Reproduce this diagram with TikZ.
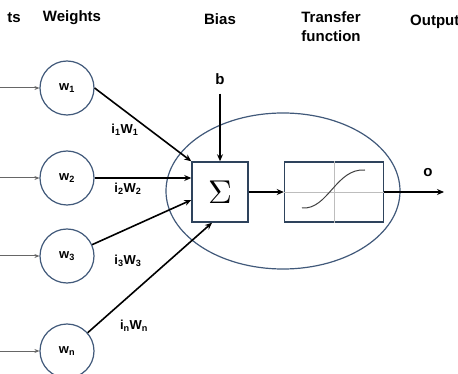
\documentclass[tikz,border=0pt]{standalone}
\usepackage{fontspec}
\setmainfont{Liberation Sans}
\usetikzlibrary{positioning, arrows.meta, shapes.geometric}
\definecolor{rimblue}{HTML}{41597A}
\definecolor{boxblue}{HTML}{2E435C}
\definecolor{gridgray}{HTML}{BDBDBD}
\tikzset{
  head/.style  = {font=\bfseries\fontsize{15}{19}\selectfont, align=center, inner sep=0pt},
  wcirc/.style = {circle, draw=rimblue, line width=1.2pt, minimum size=54pt, inner sep=0pt,
                  font=\bfseries\fontsize{13}{14}\selectfont},
  blk/.style   = {rectangle, draw=boxblue, line width=1.5pt, inner sep=0pt, minimum height=60pt},
  prod/.style  = {font=\bfseries\fontsize{13}{14}\selectfont, inner sep=0pt},
  feed/.style  = {line width=1.6pt, -{Stealth[length=7pt, width=6pt]}},
  inp/.style   = {draw=black!60, line width=1pt, -{Stealth[length=5pt, width=4pt]}},
}

\begin{document}
\begin{tikzpicture}[x=1pt, y=-1pt]
\useasboundingbox (0,0) rectangle (458,374);

% Column headings
\node (hin)  [head] at (14,18)  {ts};
\node (hw)   [head] at (72,18)  {Weights};
\node (hb)   [head] at (220,19) {Bias};
\node (htf)  [head] at (331,27) {Transfer\\function};
\node (hout) [head, anchor=west] at (410,22) {Output};

% Neuron body, summing junction and transfer block
\node (cell) [ellipse, draw=rimblue, line width=1.2pt, minimum width=234pt,
  minimum height=156pt] at (283,191) {};
\node (sum) [blk, minimum width=56pt] at (220,192) {\scalebox{3.3}{$\Sigma$}};
\node (tf)  [blk, minimum width=99pt, right=35pt of sum] {};
\draw [gridgray, line width=0.8pt] (tf.north) -- (tf.south);
\draw [gridgray, line width=0.8pt] (tf.west) -- (tf.east);
\draw [black!75, line width=1pt] ([xshift=-32pt,yshift=-16pt]tf.center)
  .. controls ([xshift=-6pt,yshift=-18pt]tf.center) and ([xshift=2pt,yshift=24pt]tf.center)
  .. ([xshift=31pt,yshift=22pt]tf.center);

% Weight nodes
\node (w1) [wcirc] at (67,88)  {w\textsubscript{1}};
\node (w2) [wcirc] at (67,178) {w\textsubscript{2}};
\node (w3) [wcirc] at (67,256) {w\textsubscript{3}};
\node (wn) [wcirc] at (67,351) {w\textsubscript{n}};

% Inputs coming in from the left edge
\coordinate (in1) at (0,88);
\coordinate (in2) at (0,178);
\coordinate (in3) at (0,256);
\coordinate (inn) at (0,351);
\draw [inp] (in1) -- (w1);
\draw [inp] (in2) -- (w2);
\draw [inp] (in3) -- (w3);
\draw [inp] (inn) -- (wn);

% Weighted inputs into the sum
\draw [feed] (w1.east) -- (sum.north west);
\draw [feed] (w2.east) -- (w2.east -| sum.west);
\draw [feed] (w3) -- ([yshift=-8pt]sum.west);
\draw [feed] (wn) -- ([xshift=-8pt]sum.south);

\node (p1) [prod] at (125,130) {i\textsubscript{1}W\textsubscript{1}};
\node (p2) [prod] at (128,189) {i\textsubscript{2}W\textsubscript{2}};
\node (p3) [prod] at (128,261) {i\textsubscript{3}W\textsubscript{3}};
\node (pn) [prod] at (134,326) {i\textsubscript{n}W\textsubscript{n}};

% Bias and output
\node (b) [head] at (220,79) {b};
\draw [feed, shorten <=9pt] (b) -- (sum.north);
\draw [feed] (sum) -- (tf);
\node (o) [head] at (428,173) {o};
\coordinate (oend) at (444,192);
\draw [feed] (tf.east) -- (oend);

\end{tikzpicture}
\end{document}
